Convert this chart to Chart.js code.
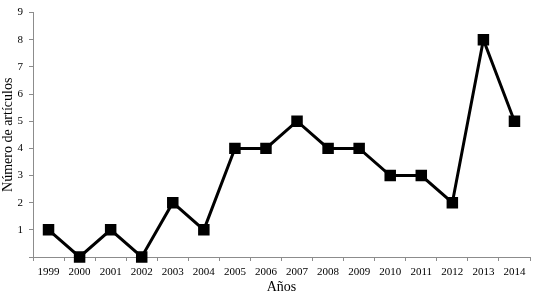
<!DOCTYPE html>
<html>
<head>
<meta charset="utf-8">
<script src="https://cdn.jsdelivr.net/npm/chart.js@4/dist/chart.umd.min.js"></script>
<style>
  html, body { margin: 0; padding: 0; background: #fff; }
  #wrap { width: 539px; height: 296px; }
</style>
</head>
<body>
<div id="wrap"><canvas id="c" width="539" height="296"></canvas></div>
<script>
  const YEARS = ['1999', '2000', '2001', '2002', '2003', '2004', '2005', '2006', '2007', '2008', '2009', '2010', '2011', '2012', '2013', '2014'];
  const ARTICULOS = [1, 0, 1, 0, 2, 1, 4, 4, 5, 4, 4, 3, 3, 2, 8, 5];
  const Y_TICKS = [0, 1, 2, 3, 4, 5, 6, 7, 8, 9];

  const FONT = 'Liberation Serif, Times New Roman, serif';
  const AXIS = '#8c8c8c';

  new Chart(document.getElementById('c'), {
    type: 'line',
    data: {
      labels: YEARS,
      datasets: [{
        data: ARTICULOS,
        borderColor: '#000',
        backgroundColor: '#000',
        borderWidth: 3,
        pointStyle: 'rect',
        pointRadius: 6,
        pointHoverRadius: 6,
        tension: 0,
        clip: false,
      }],
    },
    options: {
      responsive: false,
      animation: false,
      layout: { padding: { top: 10, right: 6, left: 0, bottom: 0 } },
      plugins: { legend: { display: false }, tooltip: { enabled: false } },
      scales: {
        x: {
          offset: true,
          afterFit: (s) => { s.height = 39; },
          grid: { offset: true, drawOnChartArea: false, color: AXIS, tickLength: 4 },
          border: { color: AXIS },
          ticks: { color: '#000', font: { family: FONT, size: 11 }, maxRotation: 0, padding: 5 },
          title: { display: true, text: 'Años', color: '#000', font: { family: FONT, size: 14 }, padding: { top: 0, bottom: 0 } },
        },
        y: {
          min: 0,
          max: 9,
          afterBuildTicks: (s) => { s.ticks = Y_TICKS.map((v) => ({ value: v })); },
          afterFit: (s) => { s.width = 33; },
          grid: { drawOnChartArea: false, color: AXIS, tickLength: 4 },
          border: { color: AXIS },
          ticks: { color: '#000', font: { family: FONT, size: 11 }, padding: 6, callback: (v) => (v === 0 ? '' : v) },
          title: { display: true, text: 'Número de artículos', color: '#000', font: { family: FONT, size: 14 }, padding: { top: 0, bottom: 0 } },
        },
      },
    },
  });
</script>
</body>
</html>
